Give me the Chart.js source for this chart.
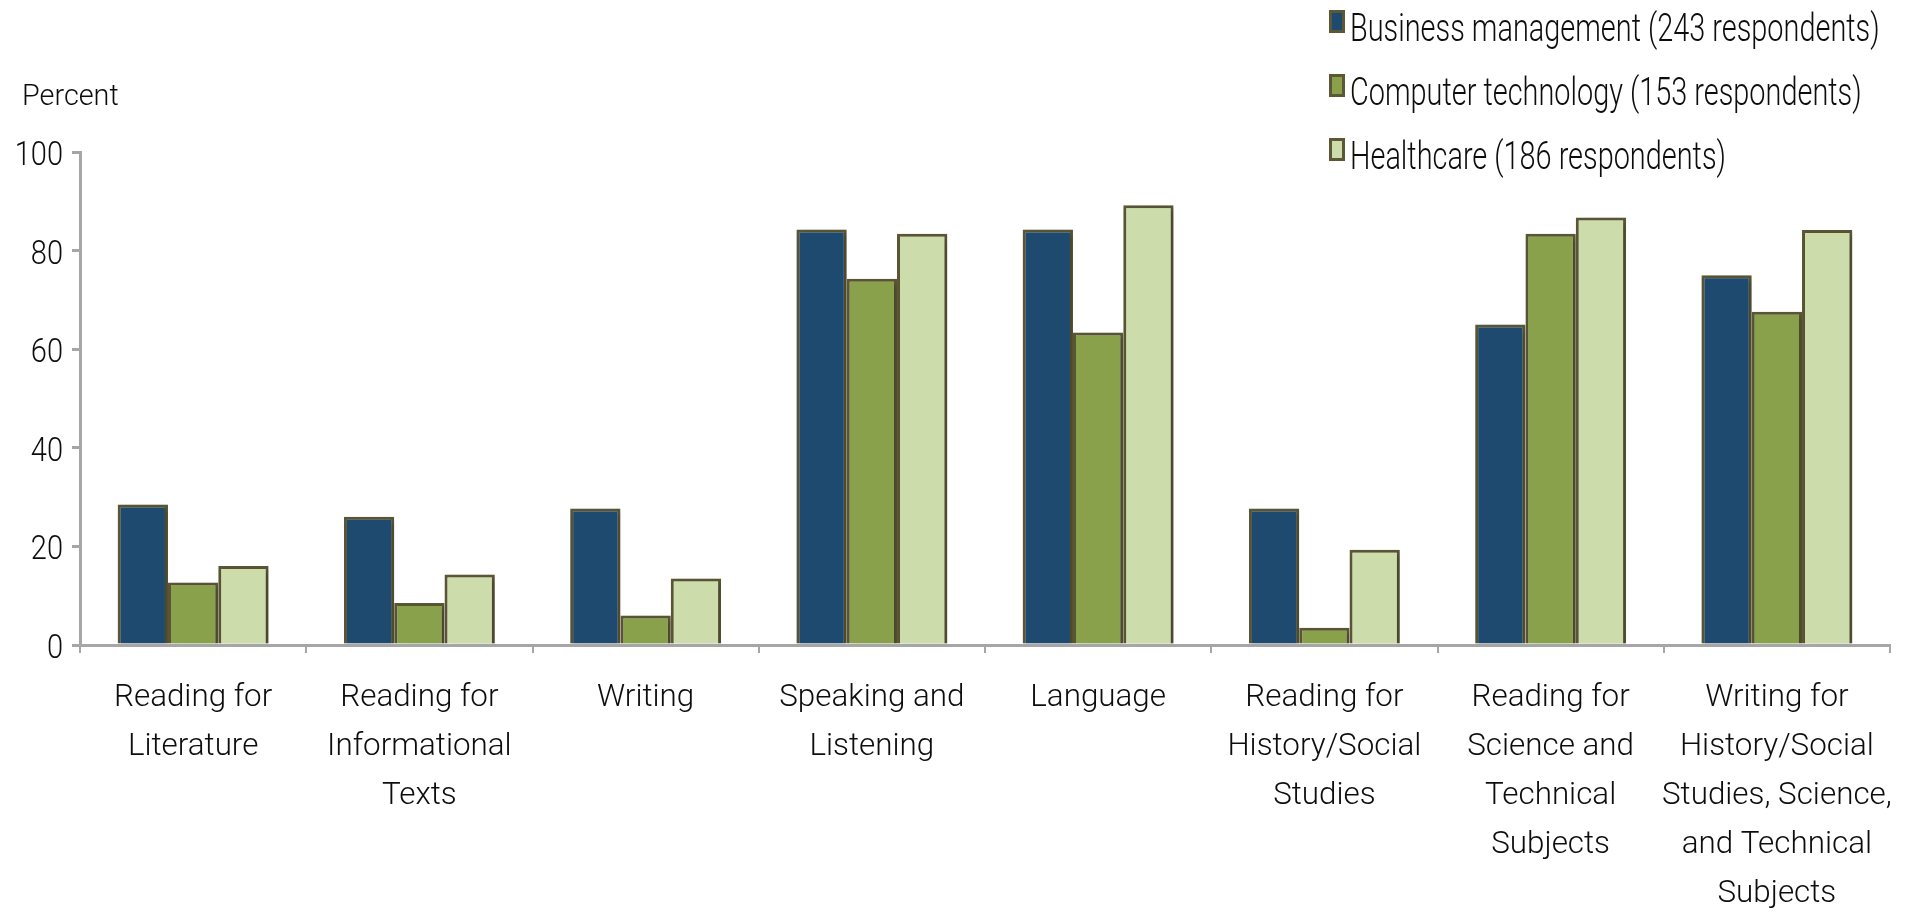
<!DOCTYPE html>
<html>
<head>
<meta charset="utf-8">
<script src="https://cdn.jsdelivr.net/npm/chart.js@4"></script>
<style>
  html, body { margin: 0; padding: 0; background: #fff; }
  #wrap { width: 1908px; height: 913px; }
</style>
</head>
<body>
<div id="wrap"><canvas id="canvSkills" width="1908" height="913"></canvas></div>
<script>
// categories (multi-line labels)
var categories = [
    ['Reading for', 'Literature'],
    ['Reading for', 'Informational', 'Texts'],
    'Writing',
    ['Speaking and', 'Listening'],
    'Language',
    ['Reading for', 'History/Social', 'Studies'],
    ['Reading for', 'Science and', 'Technical', 'Subjects'],
    ['Writing for', 'History/Social', 'Studies, Science,', 'and Technical', 'Subjects']
];

// percent values
var businessMgmt = [28.5, 26.0, 27.7, 84.3, 84.3, 27.7, 65.0, 75.0];
var computerTech = [12.7, 8.5, 6.0, 74.3, 63.4, 3.5, 83.4, 67.6];
var healthcare = [16.0, 14.3, 13.5, 83.4, 89.2, 19.3, 86.7, 84.2];

var seriesNames = [
    'Business management (243 respondents)',
    'Computer technology (153 respondents)',
    'Healthcare (186 respondents)'
];

var yTicks = [0, 20, 40, 60, 80, 100];

const FONT = "Roboto, 'Liberation Sans', sans-serif";
const BORDER = '#5c5836';
const AXIS = '#a6a6a6';
const TEXT = '#0d0d0d';

// draws text squeezed horizontally, the original uses a condensed face
function drawNarrow(ctx, str, x, y, align, size, sx) {
    ctx.save();
    ctx.font = '300 ' + size + 'px ' + FONT;
    ctx.textAlign = align;
    ctx.textBaseline = 'alphabetic';
    ctx.translate(x, y);
    ctx.scale(sx, 1);
    ctx.fillText(str, 0, 0);
    ctx.restore();
}

// soft drop shadow under the bars
const shadowPlugin = {
    id: 'barShadow',
    beforeDatasetsDraw(chart) {
        const ctx = chart.ctx;
        ctx.save();
        ctx.shadowColor = 'rgba(0,0,0,0.28)';
        ctx.shadowBlur = 6;
        ctx.shadowOffsetX = 2;
        ctx.shadowOffsetY = 2;
    },
    afterDatasetsDraw(chart) {
        chart.ctx.restore();
    }
};

// axis labels, "Percent" title and the legend block at top right
const textPlugin = {
    id: 'texts',
    afterDraw(chart) {
        const ctx = chart.ctx;
        const xs = chart.scales.x;
        const ys = chart.scales.y;
        ctx.save();
        ctx.fillStyle = TEXT;

        drawNarrow(ctx, 'Percent', 22, 105, 'left', 30, 0.96);

        ys.ticks.forEach(function(t) {
            drawNarrow(ctx, String(t.value), 63, ys.getPixelForValue(t.value) + 13, 'right', 33, 0.88);
        });

        chart.data.labels.forEach(function(lbl, i) {
            let lines = Array.isArray(lbl) ? lbl : [lbl];
            let px = xs.getPixelForTick(i);
            lines.forEach(function(line, j) {
                drawNarrow(ctx, line, px, 706 + j * 49, 'center', 32, 0.98);
            });
        });

        chart.data.datasets.forEach(function(ds, i) {
            let base = 41 + i * 64;
            ctx.fillStyle = BORDER;
            ctx.fillRect(1329, base - 31, 16, 23);
            ctx.fillStyle = ds.backgroundColor;
            ctx.fillRect(1332, base - 28, 10, 17);
            ctx.fillStyle = TEXT;
            drawNarrow(ctx, ds.label, 1350, base, 'left', 38, 0.76);
        });
        ctx.restore();
    }
};

var skillsChart = new Chart(document.getElementById('canvSkills'), {
    type: 'bar',
    data: {
        labels: categories,
        datasets: [
            {label: seriesNames[0], data: businessMgmt, backgroundColor: '#1f4a70'},
            {label: seriesNames[1], data: computerTech, backgroundColor: '#8aa14b'},
            {label: seriesNames[2], data: healthcare, backgroundColor: '#cddcab'}
        ]
    },
    options: {
        responsive: false,
        animation: false,
        devicePixelRatio: 1,
        layout: {padding: {top: 152, right: 18, left: 0, bottom: 0}},
        datasets: {
            bar: {
                borderColor: BORDER,
                borderWidth: 3,
                categoryPercentage: 0.667,
                barPercentage: 1.0
            }
        },
        plugins: {
            legend: {display: false},
            tooltip: {enabled: false}
        },
        scales: {
            x: {
                grid: {drawOnChartArea: false, offset: true, color: AXIS, lineWidth: 2, tickLength: 8},
                border: {color: AXIS, width: 3},
                ticks: {display: false},
                afterFit: function(scale) { scale.height = 268; }
            },
            y: {
                min: 0,
                max: 100,
                afterBuildTicks: function(scale) {
                    scale.ticks = yTicks.map(v => ({value: v}));
                },
                grid: {drawOnChartArea: false, color: AXIS, lineWidth: 3, tickLength: 8},
                border: {color: AXIS, width: 3},
                ticks: {display: false},
                afterFit: function(scale) { scale.width = 80; }
            }
        }
    },
    plugins: [shadowPlugin, textPlugin]
});
</script>
</body>
</html>
